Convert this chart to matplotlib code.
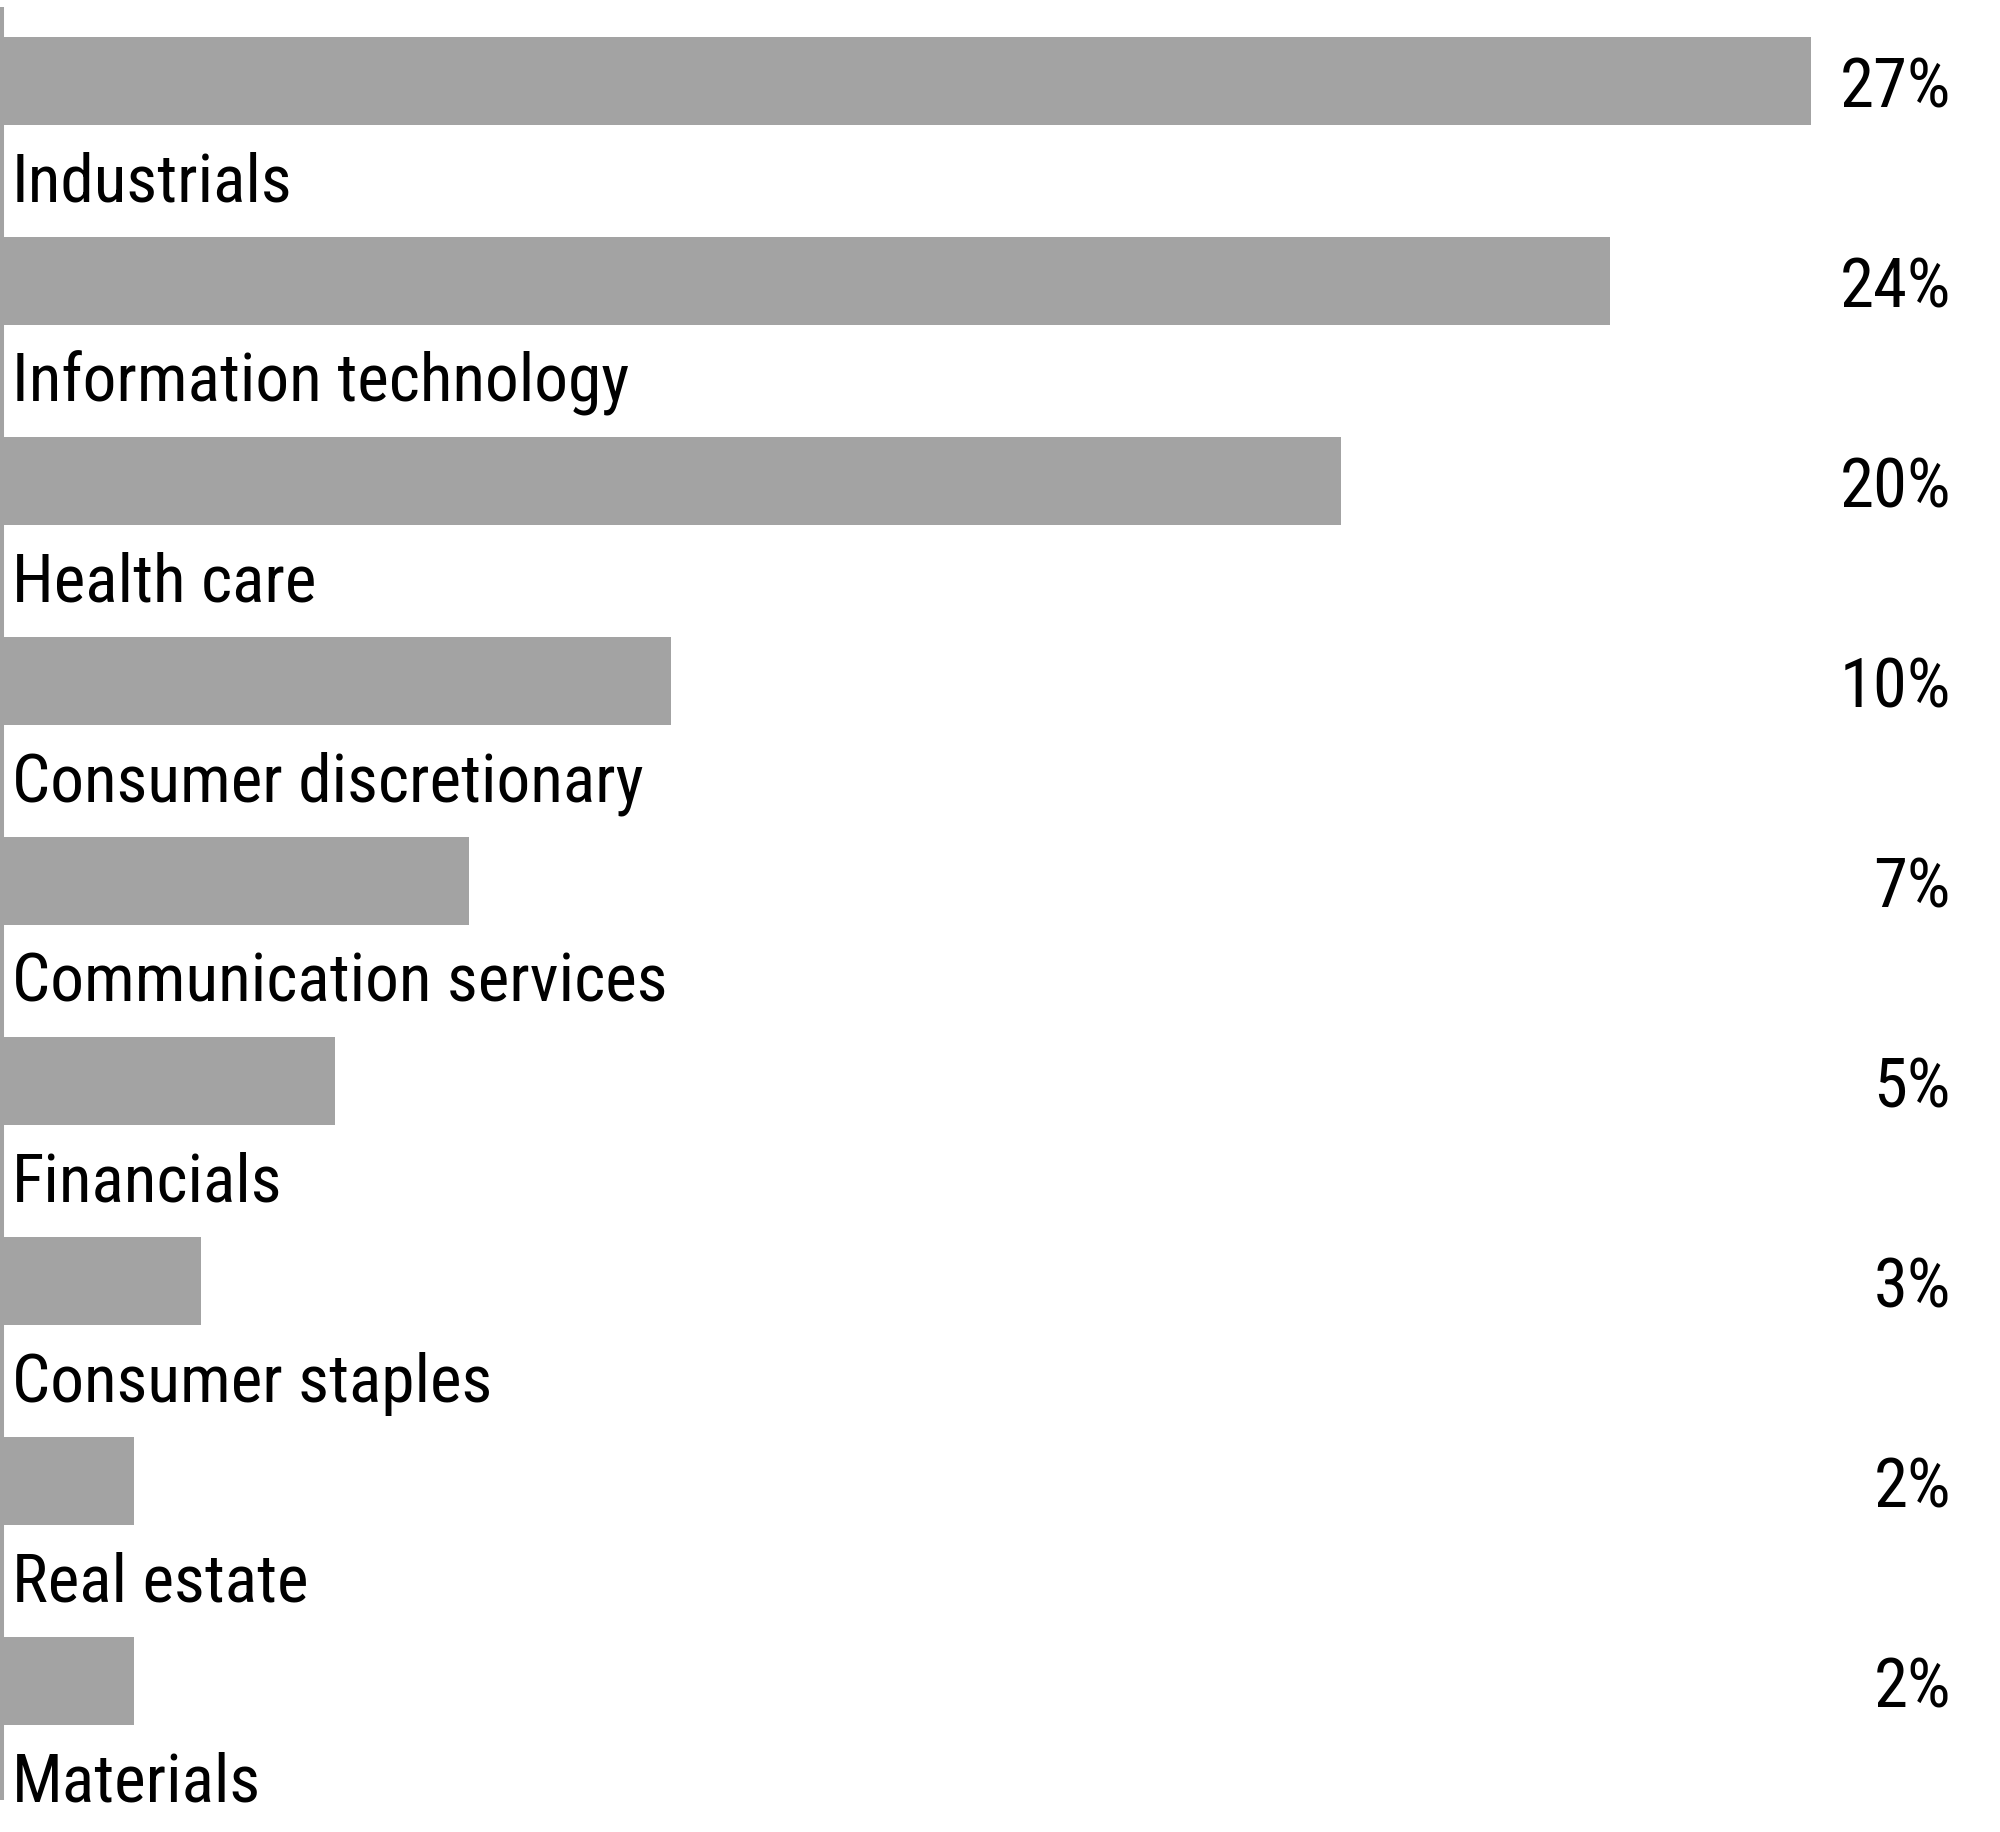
import matplotlib
matplotlib.use("Agg")
import matplotlib.pyplot as plt

categories = ["Industrials", "Information technology", "Health care",
              "Consumer discretionary", "Communication services", "Financials",
              "Consumer staples", "Real estate", "Materials"]
values = [27, 24, 20, 10, 7, 5, 3, 2, 2]
value_labels = ["27%", "24%", "20%", "10%", "7%", "5%", "3%", "2%", "2%"]

BAR_COLOR = "#a3a3a3"
FONT = ["Roboto Condensed", "Liberation Sans Narrow", "Roboto", "DejaVu Sans"]

fig = plt.figure(figsize=(20, 18.33), dpi=100)
ax = fig.add_axes([0, 0, 1, 1])

px_per_unit_x = 67.07
ypos = list(range(len(categories)))
ax.barh(ypos, values, height=0.44, color=BAR_COLOR, edgecolor="none")

ax.set_xlim(0, 2000 / px_per_unit_x)
ax.set_ylim(8.755, -0.41)

# left axis line
ax.plot([1.5 / px_per_unit_x] * 2, [-0.37, 8.595], color=BAR_COLOR, lw=2.9,
        solid_capstyle="butt", clip_on=False)

for k, (cat, lab) in enumerate(zip(categories, value_labels)):
    ax.text(12 / px_per_unit_x, k + 0.6, cat, ha="left", va="baseline",
            fontsize=48.5, family=FONT, color="black")
    ax.text(1951 / px_per_unit_x, k + 0.13, lab, ha="right", va="baseline",
            fontsize=49.5, family=FONT, color="black")

ax.axis("off")
fig.savefig("out.png", dpi=100, facecolor="white")
